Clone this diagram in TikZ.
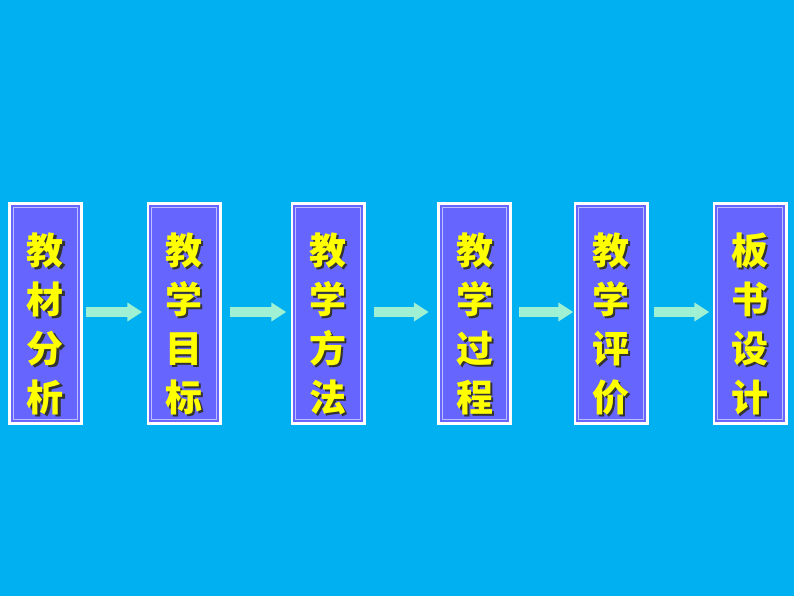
\documentclass[tikz,border=0pt]{standalone}
\usepackage{fontspec}
\newfontfamily\cjk{Noto Sans CJK SC}
\usetikzlibrary{arrows.meta}
\definecolor{bgblue}{RGB}{0,176,240}
\definecolor{boxpurple}{RGB}{102,102,255}
\definecolor{boxline}{RGB}{190,190,255}
\definecolor{arrowgreen}{RGB}{160,240,212}
\definecolor{txtyellow}{RGB}{255,255,0}
\tikzset{
  outerbox/.style={draw=none, fill=white, minimum width=75pt, minimum height=223pt, inner sep=0pt},
  labeltxt/.style={align=center, inner sep=0pt, font=\cjk\bfseries\fontsize{37}{49}\selectfont, text=txtyellow},
  shadowtxt/.style={labeltxt, text=black!80},
  flowarrow/.style={draw=arrowgreen, line width=10pt, -{Triangle[width=18pt,length=15pt]}},
}
\newcommand{\flowbox}[3]{%
  \node[outerbox] (#1) at (#2,313.5) {};
  \fill[boxpurple] ([shift={(3,3)}]#1.north west) rectangle ([shift={(-3,-3)}]#1.south east);
  \draw[boxline, line width=1pt] ([shift={(5.5,5.5)}]#1.north west) rectangle ([shift={(-5.5,-5.5)}]#1.south east);
  \node[shadowtxt] (#1s) at (#2+2,326) {#3};
  \node[labeltxt] (#1t) at (#2,324) {#3};
}
\begin{document}
\begin{tikzpicture}[x=1pt,y=-1pt]
\fill[bgblue] (0,0) rectangle (794,596);
\useasboundingbox (0,0) rectangle (794,596);
\flowbox{b1}{45.5}{教\\材\\分\\析}
\flowbox{b2}{184}{教\\学\\目\\标}
\flowbox{b3}{328}{教\\学\\方\\法}
\flowbox{b4}{474.5}{教\\学\\过\\程}
\flowbox{b5}{611}{教\\学\\评\\价}
\flowbox{b6}{750}{板\\书\\设\\计}
\draw[flowarrow] ([xshift=3pt,yshift=1.5pt]b1.east) -- ([xshift=-4pt,yshift=1.5pt]b2.west);
\draw[flowarrow] ([xshift=8pt,yshift=1.5pt]b2.east) -- ([xshift=-4pt,yshift=1.5pt]b3.west);
\draw[flowarrow] ([xshift=8pt,yshift=1.5pt]b3.east) -- ([xshift=-8pt,yshift=1.5pt]b4.west);
\draw[flowarrow] ([xshift=7pt,yshift=1.5pt]b4.east) -- ([xshift=0pt,yshift=1.5pt]b5.west);
\draw[flowarrow] ([xshift=5pt,yshift=1.5pt]b5.east) -- ([xshift=-3pt,yshift=1.5pt]b6.west);
\end{tikzpicture}
\end{document}
